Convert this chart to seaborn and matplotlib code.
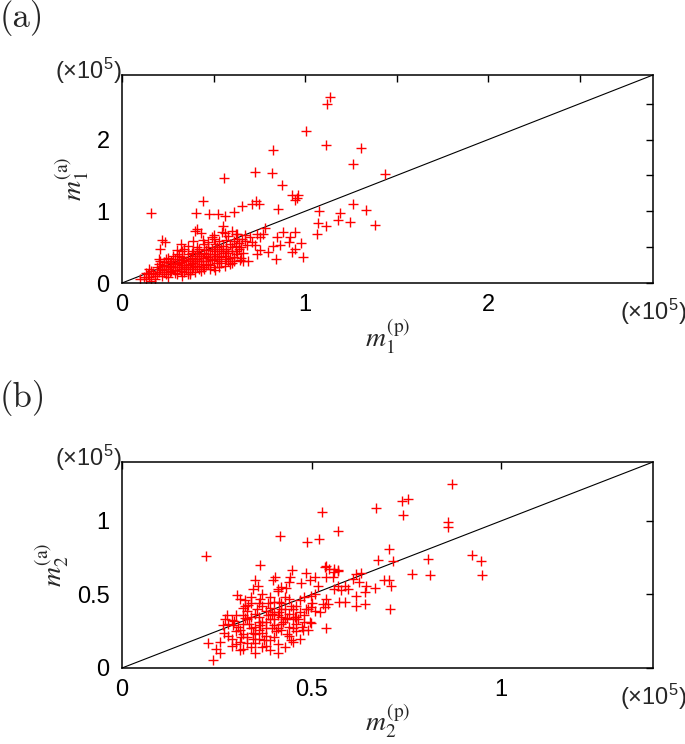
import matplotlib
matplotlib.use("Agg")
import matplotlib.pyplot as plt
import seaborn as sns
import pandas as pd
from matplotlib.ticker import MultipleLocator, FormatStrFormatter

# panel (a): m1, units of 1e5
a_scatter_x = [1.137, 1.118, 1.005, 1.113, 1.304, 0.827, 1.26, 1.437, 0.729, 0.821, 0.556, 0.876,
               0.927, 0.955, 0.963, 0.945, 0.734, 0.709, 0.750, 0.656, 0.612, 0.854, 0.443, 0.404,
               0.477, 0.523, 0.565, 0.158, 1.078, 1.259, 1.335, 1.19, 1.18, 1.246, 1.384, 1.071,
               1.115, 1.067, 0.99, 0.978, 0.947, 0.88, 0.92, 0.91, 0.845, 0.863, 0.827, 0.945,
               0.927, 0.84, 0.80, 0.754, 0.736, 0.727, 0.68, 0.71, 0.69, 0.663, 0.645, 0.78,
               0.77, 0.735, 0.754, 0.70, 0.67, 0.654, 0.60, 0.63, 0.55, 0.545, 0.50, 0.47,
               0.41, 0.43, 0.40, 0.22, 0.235, 0.21, 0.32]
a_scatter_y = [2.60, 2.50, 2.12, 1.93, 1.88, 1.86, 1.66, 1.52, 1.55, 1.54, 1.46, 1.36,
               1.22, 1.19, 1.22, 1.16, 1.14, 1.10, 1.10, 1.07, 0.99, 1.03, 1.14, 0.98,
               0.96, 0.96, 0.93, 0.98, 1.01, 1.10, 1.02, 0.97, 0.875, 0.857, 0.81, 0.83,
               0.79, 0.685, 0.365, 0.56, 0.71, 0.71, 0.64, 0.57, 0.64, 0.53, 0.51, 0.47,
               0.435, 0.34, 0.435, 0.46, 0.41, 0.53, 0.53, 0.57, 0.30, 0.30, 0.32, 0.76,
               0.69, 0.69, 0.64, 0.64, 0.67, 0.62, 0.72, 0.68, 0.80, 0.71, 0.67, 0.57,
               0.75, 0.70, 0.72, 0.60, 0.57, 0.47, 0.54]
a_cluster_x = [0.10, 0.12, 0.13, 0.14, 0.15, 0.16, 0.17, 0.18, 0.16, 0.13, 0.18, 0.15,
               0.19, 0.20, 0.21, 0.22, 0.23, 0.24, 0.25, 0.20, 0.22, 0.24, 0.26, 0.19,
               0.21, 0.23, 0.25, 0.26, 0.20, 0.22, 0.24, 0.26,
               0.27, 0.28, 0.29, 0.30, 0.31, 0.32, 0.33, 0.34, 0.35, 0.28, 0.30, 0.32,
               0.33, 0.29, 0.31, 0.34, 0.35, 0.27, 0.30, 0.33, 0.28, 0.32, 0.34, 0.29, 0.31,
               0.36, 0.37, 0.38, 0.39, 0.40, 0.41, 0.42, 0.43, 0.44, 0.36, 0.37, 0.38,
               0.39, 0.40, 0.41, 0.42, 0.43, 0.44, 0.37, 0.39, 0.41, 0.43, 0.36, 0.40,
               0.42, 0.44, 0.38, 0.40,
               0.45, 0.46, 0.47, 0.48, 0.49, 0.50, 0.51, 0.52, 0.53, 0.54, 0.55, 0.45,
               0.47, 0.48, 0.50, 0.51, 0.52, 0.53, 0.54, 0.46, 0.49, 0.51, 0.55, 0.47,
               0.50, 0.53, 0.48, 0.52,
               0.56, 0.57, 0.58, 0.59, 0.60, 0.61, 0.62, 0.63, 0.64, 0.65, 0.57, 0.58,
               0.60, 0.61, 0.62, 0.64, 0.66, 0.56, 0.59, 0.63, 0.57, 0.60, 0.65,
               0.23, 0.27, 0.31, 0.35, 0.38, 0.42, 0.46, 0.50, 0.54, 0.58, 0.25, 0.29,
               0.33, 0.37, 0.41, 0.45, 0.49, 0.53, 0.57, 0.61, 0.30, 0.36, 0.44, 0.48,
               0.52, 0.56, 0.34, 0.39, 0.46, 0.59, 0.62, 0.67]
a_cluster_y = [0.06, 0.09, 0.05, 0.12, 0.08, 0.03, 0.14, 0.10, 0.17, 0.14, 0.05, 0.20,
               0.22, 0.15, 0.30, 0.18, 0.25, 0.12, 0.20, 0.26, 0.10, 0.33, 0.28, 0.12,
               0.20, 0.16, 0.08, 0.22, 0.33, 0.24, 0.19, 0.15,
               0.30, 0.22, 0.18, 0.27, 0.34, 0.20, 0.25, 0.15, 0.30, 0.38, 0.12, 0.29,
               0.36, 0.26, 0.22, 0.23, 0.19, 0.17, 0.41, 0.10, 0.28, 0.17, 0.32, 0.33, 0.28,
               0.25, 0.33, 0.20, 0.28, 0.38, 0.24, 0.31, 0.17, 0.35, 0.40, 0.16, 0.35,
               0.22, 0.30, 0.44, 0.20, 0.27, 0.23, 0.27, 0.45, 0.34, 0.40, 0.12, 0.15,
               0.37, 0.30, 0.30, 0.24,
               0.42, 0.30, 0.36, 0.25, 0.48, 0.34, 0.40, 0.28, 0.45, 0.36, 0.52, 0.20,
               0.50, 0.40, 0.22, 0.55, 0.38, 0.30, 0.47, 0.46, 0.32, 0.18, 0.42, 0.27,
               0.45, 0.58, 0.33, 0.50,
               0.38, 0.48, 0.30, 0.55, 0.44, 0.36, 0.52, 0.40, 0.48, 0.35, 0.60, 0.42,
               0.28, 0.58, 0.45, 0.56, 0.42, 0.24, 0.35, 0.62, 0.33, 0.50, 0.50,
               0.29, 0.24, 0.38, 0.22, 0.42, 0.48, 0.25, 0.62, 0.28, 0.66, 0.35, 0.14,
               0.44, 0.12, 0.50, 0.55, 0.64, 0.22, 0.45, 0.30, 0.46, 0.52, 0.60, 0.20,
               0.34, 0.70, 0.48, 0.58, 0.38, 0.26, 0.68, 0.58]

# panel (b): m2, units of 1e5
b_scatter_x = [0.221, 0.527, 0.67, 0.416, 0.57, 0.489, 0.519, 0.675, 0.363, 0.24, 0.249, 0.258,
               0.227, 0.539, 0.497, 0.477, 0.537, 0.56, 0.57, 0.869, 0.755, 0.738, 0.74, 0.86,
               0.86, 0.703, 0.714, 0.808, 0.922, 0.946, 0.764, 0.813, 0.948, 0.69, 0.705, 0.71,
               0.668, 0.707, 0.64, 0.617, 0.64, 0.617, 0.587, 0.572, 0.644, 0.626, 0.609, 0.617,
               0.63, 0.587, 0.596, 0.578, 0.569, 0.56, 0.556, 0.539, 0.547, 0.534, 0.569, 0.56,
               0.539, 0.543, 0.534, 0.53, 0.521, 0.508, 0.499, 0.495, 0.499, 0.508, 0.517,
               0.495, 0.449, 0.486, 0.473, 0.508, 0.403, 0.398, 0.442, 0.44, 0.42, 0.411, 0.432,
               0.35, 0.359, 0.346, 0.341, 0.302, 0.31, 0.324, 0.332, 0.319, 0.271, 0.276, 0.289,
               0.293, 0.267, 0.258]
b_scatter_y = [0.764, 1.06, 1.085, 0.90, 0.93, 0.853, 0.88, 0.735, 0.70, 0.054, 0.126, 0.099,
               0.171, 0.272, 0.309, 0.257, 0.69, 0.67, 0.66, 1.25, 1.15, 1.135, 1.04, 0.99,
               0.955, 0.81, 0.73, 0.74, 0.768, 0.73, 0.64, 0.63, 0.63, 0.595, 0.595, 0.554,
               0.545, 0.40, 0.515, 0.49, 0.437, 0.42, 0.448, 0.448, 0.56, 0.583, 0.606, 0.64,
               0.644, 0.56, 0.538, 0.527, 0.56, 0.538, 0.617, 0.617, 0.674, 0.685, 0.667, 0.65,
               0.47, 0.437, 0.414, 0.437, 0.38, 0.39, 0.414, 0.31, 0.49, 0.505, 0.56,
               0.595, 0.667, 0.644, 0.576, 0.617, 0.617, 0.595, 0.617, 0.583, 0.55, 0.538, 0.545,
               0.595, 0.554, 0.538, 0.482, 0.493, 0.47, 0.46, 0.425, 0.41, 0.336, 0.358, 0.324,
               0.29, 0.29, 0.178]
b_cluster_x = [0.28, 0.29, 0.30, 0.31, 0.32, 0.33, 0.34, 0.35, 0.36, 0.37, 0.38, 0.39,
               0.40, 0.41, 0.42, 0.43, 0.44, 0.45, 0.46, 0.47, 0.48, 0.49, 0.30, 0.31,
               0.33, 0.34, 0.35, 0.36, 0.37, 0.38, 0.39, 0.40, 0.41, 0.42, 0.43, 0.44,
               0.45, 0.46, 0.47, 0.48, 0.32, 0.33, 0.35, 0.36, 0.37, 0.38, 0.39, 0.40,
               0.41, 0.42, 0.43, 0.44, 0.46, 0.28, 0.29, 0.31, 0.34, 0.36, 0.38, 0.40,
               0.42, 0.44, 0.46, 0.48, 0.30, 0.32, 0.35, 0.37, 0.39, 0.41, 0.43, 0.45,
               0.47, 0.27, 0.34, 0.37, 0.39, 0.41, 0.36, 0.33, 0.40, 0.45, 0.49, 0.50,
               0.32, 0.38, 0.42, 0.35,
               0.305, 0.325, 0.345, 0.365, 0.385, 0.405, 0.425, 0.445, 0.465, 0.485, 0.315,
               0.335, 0.355, 0.375, 0.395, 0.415, 0.435, 0.455, 0.475, 0.295, 0.345, 0.395,
               0.445, 0.365, 0.415, 0.325, 0.385, 0.435]
b_cluster_y = [0.22, 0.15, 0.25, 0.18, 0.30, 0.21, 0.14, 0.28, 0.35, 0.24, 0.31, 0.19,
               0.38, 0.27, 0.44, 0.33, 0.22, 0.40, 0.30, 0.46, 0.36, 0.26, 0.36, 0.12,
               0.39, 0.27, 0.17, 0.44, 0.31, 0.22, 0.41, 0.29, 0.16, 0.35, 0.48, 0.28,
               0.33, 0.42, 0.38, 0.48, 0.23, 0.33, 0.37, 0.26, 0.42, 0.15, 0.33, 0.45,
               0.36, 0.26, 0.40, 0.47, 0.35, 0.30, 0.20, 0.26, 0.35, 0.20, 0.39, 0.21,
               0.30, 0.37, 0.25, 0.31, 0.16, 0.13, 0.10, 0.14, 0.12, 0.10, 0.14, 0.18,
               0.20, 0.24, 0.44, 0.50, 0.48, 0.52, 0.31, 0.17, 0.33, 0.27, 0.40, 0.44,
               0.36, 0.27, 0.40, 0.23,
               0.28, 0.34, 0.24, 0.29, 0.36, 0.25, 0.31, 0.42, 0.33, 0.40, 0.21,
               0.30, 0.40, 0.19, 0.27, 0.38, 0.23, 0.35, 0.28, 0.32, 0.20, 0.37,
               0.19, 0.47, 0.45, 0.42, 0.44, 0.34]

a_lim = 2.9
b_lim = 1.4

sns.set_style("white")
plt.rcParams["font.family"] = ["Liberation Sans", "DejaVu Sans"]
plt.rcParams["mathtext.fontset"] = "custom"
plt.rcParams["mathtext.rm"] = "Liberation Sans"
plt.rcParams["mathtext.it"] = "Liberation Sans:italic"

fig = plt.figure(figsize=(6.85, 7.44), dpi=100)
W, H = 685, 744
ax_a = fig.add_axes([122 / W, 1 - 283 / H, 531 / W, 208 / H])
ax_b = fig.add_axes([122 / W, 1 - 668 / H, 531 / W, 206 / H])

df_a = pd.DataFrame({"x": a_scatter_x + a_cluster_x, "y": a_scatter_y + a_cluster_y})
df_b = pd.DataFrame({"x": b_scatter_x + b_cluster_x, "y": b_scatter_y + b_cluster_y})


def draw(ax, df, lim, major, minor, sub, fmt):
    ax.plot([0, lim], [0, lim], color="black", lw=0.8, zorder=1)
    sns.scatterplot(data=df, x="x", y="y", ax=ax, marker="+", color="red",
                    s=50, linewidth=1.0, zorder=2)
    ax.set_xlim(0, lim)
    ax.set_ylim(0, lim)
    for axis in (ax.xaxis, ax.yaxis):
        axis.set_major_locator(MultipleLocator(major))
        axis.set_minor_locator(MultipleLocator(minor))
        axis.set_major_formatter(FormatStrFormatter(fmt))
    ax.tick_params(which="both", direction="in", top=True, right=True,
                   length=5, width=1.0, labelsize=17, colors="black")
    ax.tick_params(axis="x", pad=8)
    ax.tick_params(axis="y", pad=9)
    for sp in ax.spines.values():
        sp.set_visible(True)
        sp.set_linewidth(1.1)
        sp.set_color("black")
    ax.set_xlabel(r"$m_%s^{\mathrm{(p)}}$" % sub, fontsize=20, math_fontfamily="stix", labelpad=0)
    ax.set_ylabel(r"$m_%s^{\mathrm{(a)}}$" % sub, fontsize=20, math_fontfamily="stix", labelpad=4)
    ax.text(0, 1.02, r"(×10$^5$)", transform=ax.transAxes, ha="right", va="center", fontsize=17)
    ax.text(1.0, -0.14, r"(×10$^5$)", transform=ax.transAxes, ha="center", va="center", fontsize=17)


draw(ax_a, df_a, a_lim, 1, 0.5, "1", "%g")
draw(ax_b, df_b, b_lim, 0.5, 0.5, "2", "%g")

fig.text(0.0, 1.0, "(a)", fontfamily="cmr10", fontsize=25, ha="left", va="top")
fig.text(0.0, 1 - 380 / H, "(b)", fontfamily="cmr10", fontsize=25, ha="left", va="top")

fig.savefig("out.png", dpi=100)
plt.close(fig)
